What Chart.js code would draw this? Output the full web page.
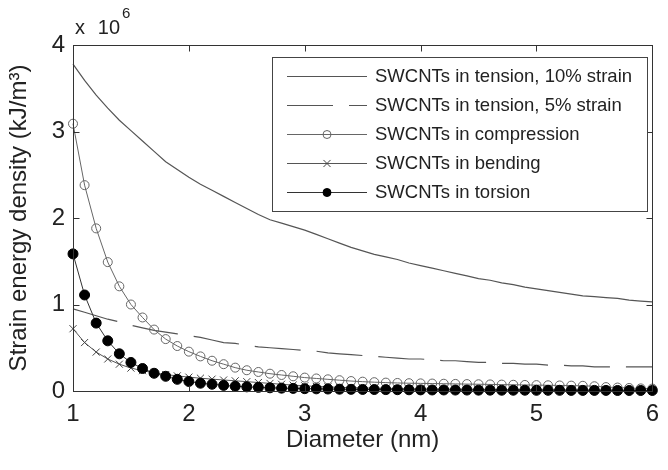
<!DOCTYPE html>
<html lang="en">
<head>
<meta charset="UTF-8">
<title>Strain energy density vs diameter</title>
<script src="https://cdn.jsdelivr.net/npm/chart.js"></script>
<style>
  body { margin: 0; background: #fff; }
  #chart { display: block; }
</style>
</head>
<body>
<canvas id="chart" width="668" height="470"></canvas>
<script>
// diameters (nm), one point every 0.1 nm
const diameters = [1.0, 1.1, 1.2, 1.3, 1.4, 1.5, 1.6, 1.7, 1.8, 1.9,
                   2.0, 2.1, 2.2, 2.3, 2.4, 2.5, 2.6, 2.7, 2.8, 2.9,
                   3.0, 3.1, 3.2, 3.3, 3.4, 3.5, 3.6, 3.7, 3.8, 3.9,
                   4.0, 4.1, 4.2, 4.3, 4.4, 4.5, 4.6, 4.7, 4.8, 4.9,
                   5.0, 5.1, 5.2, 5.3, 5.4, 5.5, 5.6, 5.7, 5.8, 5.9, 6.0];

// strain energy density, in units of 10^6 kJ/m^3
const tension10 = [3.78, 3.59, 3.42, 3.27, 3.13, 3.01, 2.89, 2.77, 2.65, 2.56,
                   2.47, 2.39, 2.32, 2.25, 2.18, 2.11, 2.04, 1.98, 1.94, 1.90,
                   1.86, 1.81, 1.76, 1.71, 1.66, 1.62, 1.58, 1.55, 1.52, 1.48,
                   1.45, 1.42, 1.39, 1.36, 1.33, 1.30, 1.28, 1.25, 1.23, 1.20,
                   1.18, 1.16, 1.14, 1.12, 1.10, 1.09, 1.08, 1.07, 1.05, 1.04, 1.03];
const tension5 = [0.95, 0.91, 0.87, 0.83, 0.80, 0.76, 0.73, 0.70, 0.68, 0.66,
                  0.64, 0.62, 0.59, 0.56, 0.55, 0.53, 0.51, 0.50, 0.49, 0.48,
                  0.47, 0.46, 0.44, 0.43, 0.42, 0.41, 0.40, 0.39, 0.38, 0.37,
                  0.37, 0.36, 0.35, 0.35, 0.34, 0.33, 0.33, 0.32, 0.32, 0.31,
                  0.31, 0.30, 0.30, 0.29, 0.29, 0.28, 0.28, 0.28, 0.28, 0.28, 0.28];
const compression = [3.09, 2.38, 1.88, 1.49, 1.21, 1.00, 0.85, 0.71, 0.60, 0.52,
                     0.455, 0.40, 0.35, 0.31, 0.27, 0.24, 0.22, 0.20, 0.185, 0.17,
                     0.155, 0.145, 0.135, 0.125, 0.115, 0.108, 0.102, 0.097, 0.093, 0.090,
                     0.088, 0.086, 0.084, 0.082, 0.080, 0.078, 0.076, 0.074, 0.072, 0.070,
                     0.068, 0.066, 0.064, 0.062, 0.060, 0.055, 0.045, 0.040, 0.035, 0.030, 0.028];
const bending = [0.72, 0.56, 0.45, 0.37, 0.31, 0.265, 0.235, 0.21, 0.19, 0.175,
                 0.16, 0.148, 0.137, 0.127, 0.118, 0.108, 0.098, 0.088, 0.078, 0.068,
                 0.060, 0.053, 0.047, 0.042, 0.038, 0.035, 0.032, 0.030, 0.028, 0.026,
                 0.024, 0.023, 0.022, 0.021, 0.020, 0.019, 0.018, 0.017, 0.016, 0.015,
                 0.015, 0.014, 0.014, 0.013, 0.013, 0.012, 0.012, 0.011, 0.011, 0.010, 0.010];
const torsion = [1.585, 1.11, 0.785, 0.58, 0.43, 0.33, 0.26, 0.205, 0.17, 0.135,
                 0.11, 0.09, 0.078, 0.065, 0.055, 0.048, 0.042, 0.037, 0.033, 0.030,
                 0.027, 0.025, 0.023, 0.021, 0.019, 0.018, 0.017, 0.016, 0.015, 0.014,
                 0.013, 0.012, 0.012, 0.011, 0.011, 0.010, 0.010, 0.009, 0.009, 0.009,
                 0.008, 0.008, 0.008, 0.007, 0.007, 0.007, 0.007, 0.006, 0.006, 0.006, 0.006];

const seriesLabels = ['SWCNTs in tension, 10% strain', 'SWCNTs in tension, 5% strain',
                      'SWCNTs in compression', 'SWCNTs in bending', 'SWCNTs in torsion'];
const xTicks = [1, 2, 3, 4, 5, 6];
const yTicks = [0, 1, 2, 3, 4];

const FONT = "'Liberation Sans', Arial, Helvetica, sans-serif";
const pts = vals => vals.map((v, i) => ({ x: diameters[i], y: v }));

const styles = [
  { borderColor: '#555', borderWidth: 1.2, pointRadius: 0 },
  { borderColor: '#555', borderWidth: 1.2, pointRadius: 0, borderDash: [46, 16] },
  { borderColor: '#666', borderWidth: 1, pointStyle: 'circle', pointRadius: 4.5,
    pointBorderColor: '#666', pointBackgroundColor: 'rgba(0,0,0,0)', pointBorderWidth: 1 },
  { borderColor: '#555', borderWidth: 1, pointStyle: 'crossRot', pointRadius: 5,
    pointBorderColor: '#444', pointBorderWidth: 1 },
  { borderColor: '#333', borderWidth: 1, pointStyle: 'circle', pointRadius: 5,
    pointBorderColor: '#000', pointBackgroundColor: '#000', pointBorderWidth: 1 }
];
const allValues = [tension10, tension5, compression, bending, torsion];

// frame with inward ticks, boxed legend, exponent label
const extras = {
  id: 'extras',
  afterDatasetsDraw(chart) {
    const { ctx, chartArea: a, scales: { x, y } } = chart;
    ctx.save();
    ctx.strokeStyle = '#333';
    ctx.lineWidth = 1;
    const L = Math.round(a.left) + 0.5, R = Math.round(a.right) + 0.5;
    const T = Math.round(a.top) + 0.5, B = Math.round(a.bottom) + 0.5;
    ctx.strokeRect(L, T, R - L, B - T);
    ctx.beginPath();
    xTicks.forEach(v => {
      const px = Math.round(x.getPixelForValue(v)) + 0.5;
      ctx.moveTo(px, B); ctx.lineTo(px, B - 6);
      ctx.moveTo(px, T); ctx.lineTo(px, T + 6);
    });
    yTicks.forEach(v => {
      const py = Math.round(y.getPixelForValue(v)) + 0.5;
      ctx.moveTo(L, py); ctx.lineTo(L + 6, py);
      ctx.moveTo(R, py); ctx.lineTo(R - 6, py);
    });
    ctx.stroke();

    // exponent label
    ctx.fillStyle = '#222';
    ctx.textBaseline = 'alphabetic';
    ctx.font = '20px ' + FONT;
    ctx.textAlign = 'left';
    ctx.fillText('x', 75, 34);
    ctx.textAlign = 'right';
    ctx.fillText('10', 120, 34);
    ctx.textAlign = 'left';
    ctx.font = '15px ' + FONT;
    ctx.fillText('6', 122, 18);

    // legend box
    const bx = 272.5, by = 57.5, bw = 375, bh = 154;
    ctx.fillStyle = '#fff';
    ctx.fillRect(bx, by, bw, bh);
    ctx.strokeStyle = '#444';
    ctx.strokeRect(bx, by, bw, bh);
    ctx.font = '18.5px ' + FONT;
    ctx.textBaseline = 'middle';
    seriesLabels.forEach((lab, i) => {
      const ry = 76 + i * 29;
      const s = styles[i];
      ctx.save();
      ctx.strokeStyle = s.borderColor;
      ctx.lineWidth = s.borderWidth;
      ctx.setLineDash(s.borderDash || []);
      ctx.beginPath();
      ctx.moveTo(287, ry + 0.5); ctx.lineTo(367, ry + 0.5);
      ctx.stroke();
      ctx.restore();
      if (s.pointRadius) {
        ctx.save();
        ctx.strokeStyle = s.pointBorderColor;
        ctx.fillStyle = s.pointBackgroundColor || 'rgba(0,0,0,0)';
        ctx.lineWidth = 1;
        Chart.helpers.drawPoint(ctx, {
          pointStyle: s.pointStyle, radius: s.pointStyle === 'crossRot' ? 5 : 4, borderWidth: 1
        }, 327, ry + 0.5);
        ctx.restore();
      }
      ctx.fillStyle = '#222';
      ctx.fillText(lab, 375, ry + 1);
    });
    ctx.restore();
  }
};

new Chart(document.getElementById('chart'), {
  type: 'line',
  data: {
    datasets: allValues.map((vals, i) => Object.assign({
      label: seriesLabels[i],
      data: pts(vals),
      fill: false,
      tension: 0,
      clip: false,
      order: 4 - i
    }, styles[i]))
  },
  options: {
    responsive: false,
    animation: false,
    events: [],
    layout: { padding: { top: 45, right: 11, left: 0, bottom: 0 } },
    plugins: { legend: { display: false }, tooltip: { enabled: false } },
    scales: {
      x: {
        type: 'linear', min: 1, max: 6,
        afterFit: s => { s.height = 79; },
        afterBuildTicks: s => { s.ticks = xTicks.map(v => ({ value: v })); },
        grid: { display: false, drawTicks: false },
        border: { display: false },
        ticks: { padding: 9, color: '#222', font: { family: FONT, size: 24 } },
        title: { display: true, text: 'Diameter (nm)', color: '#222',
                 font: { family: FONT, size: 24, lineHeight: 1.2 },
                 padding: { top: 0, bottom: 15 } }
      },
      y: {
        type: 'linear', min: 0, max: 4,
        afterFit: s => { s.width = 73; },
        afterBuildTicks: s => { s.ticks = yTicks.map(v => ({ value: v })); },
        grid: { display: false, drawTicks: false },
        border: { display: false },
        ticks: { padding: 8, color: '#222', font: { family: FONT, size: 24 } },
        title: { display: true, text: 'Strain energy density (kJ/m³)', color: '#222',
                 font: { family: FONT, size: 24, lineHeight: 1.2 },
                 padding: { top: 5, bottom: 0 } }
      }
    }
  },
  plugins: [extras]
});
</script>
</body>
</html>
